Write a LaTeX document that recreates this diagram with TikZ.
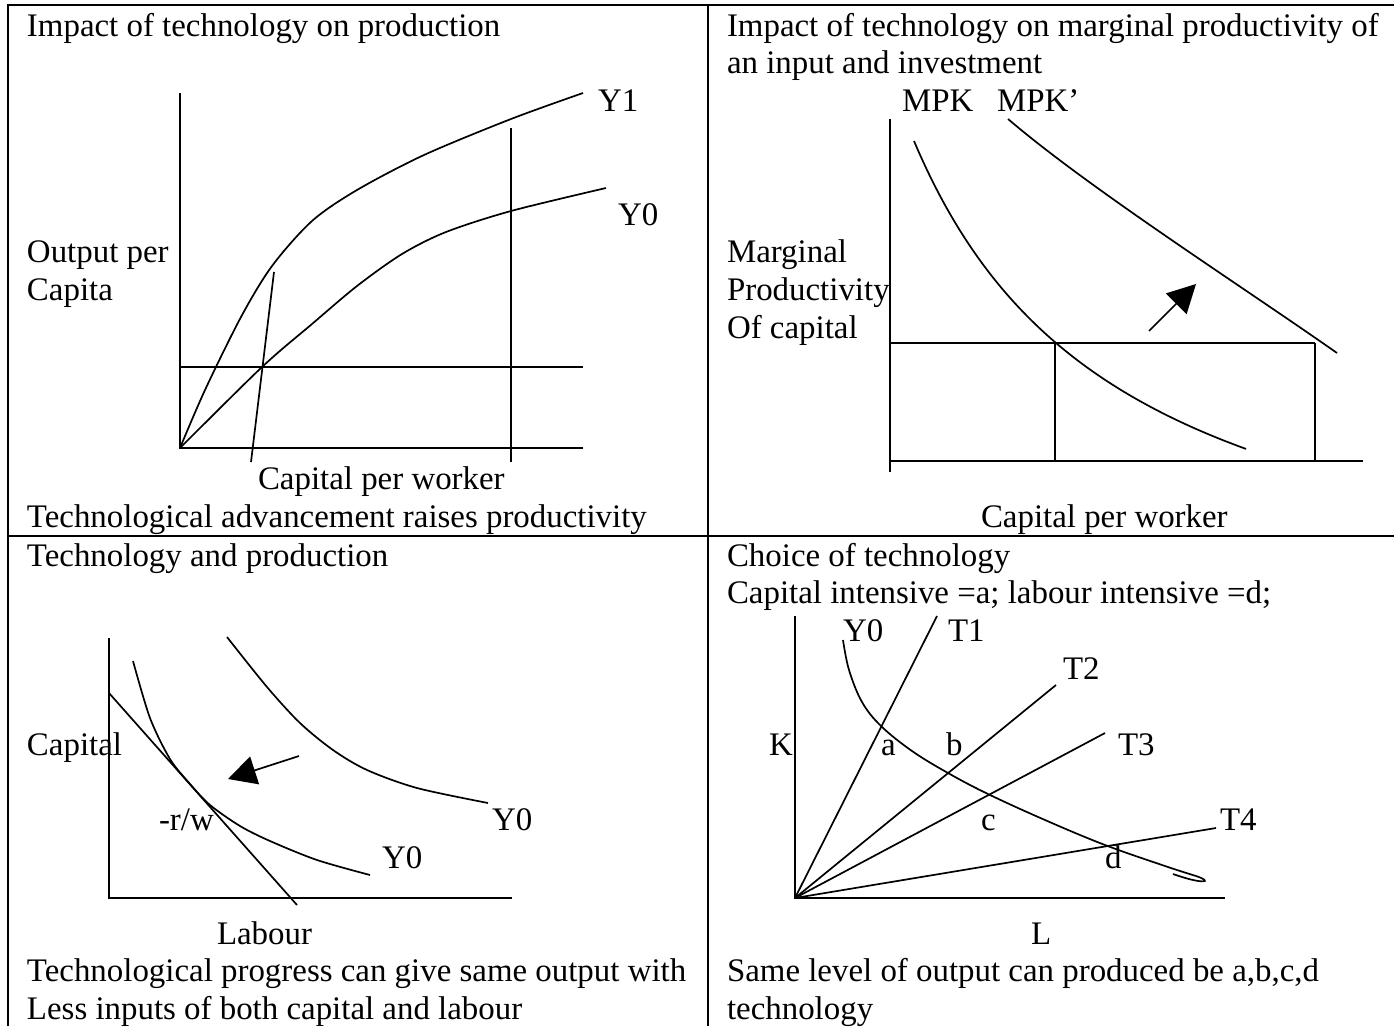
\documentclass[tikz,border=0pt]{standalone}
\usepackage{fontspec}
\setmainfont{Liberation Serif}
\usetikzlibrary{arrows.meta}
\begin{document}
\begin{tikzpicture}[x=1pt,y=-1pt,
  txt/.style={anchor=base west,inner sep=0pt,outer sep=0pt,font=\fontsize{32.9}{37.8}\selectfont},
  frame/.style={line width=2pt},
  axis/.style={line width=2pt},
  curve/.style={line width=1.7pt},
  bigarrow/.style={line width=1.7pt,-{Triangle[length=28pt,width=29pt]}}]
\useasboundingbox (0,0) rectangle (1394,1026);
% table frame
\draw[frame] (8,1026) -- (8,5) -- (1394,5);
\draw[frame] (8,536) -- (1394,536);
\draw[frame] (708,5) -- (708,1026);

% ---------- top-left ----------
\node[txt] (tl1) at (27,36) {Impact of technology on production};
\coordinate (O1) at (180,448);
\draw[axis] (180,93) -- (O1) -- (583,448);
\draw[axis] (180,367) -- (583,367);
\draw[axis] (511,128) -- (511,462);
\draw[curve] (251,462) -- (274,272);
\draw[curve] plot[smooth] coordinates {(180,448) (205,390) (241,317) (272,266) (312,221) (357,190) (424,155) (511,119) (583,93)};
\draw[curve] plot[smooth] coordinates {(180,448) (262,367) (312,324) (357,286) (402,254) (446,232) (511,211) (606,188)};
\node[txt] (tly1) at (598,111.6) {Y1};
\node[txt] (tly0) at (618,225) {Y0};
\node[txt] (tlo1) at (27,262.8) {Output per};
\node[txt] (tlo2) at (27,300.6) {Capita};
\node[txt] (tlx) at (258,489.6) {Capital per worker};
\node[txt] (tlc) at (27,527.4) {Technological advancement raises productivity};

% ---------- top-right ----------
\node[txt] (tr1) at (727,36) {Impact of technology on marginal productivity of};
\node[txt] (tr2) at (727,73.8) {an input and investment};
\node[txt] (mpk) at (902,111.6) {MPK};
\node[txt] (mpkp) at (997,111.6) {MPK’};
\node[txt] (trm1) at (727,262.8) {Marginal};
\node[txt] (trm2) at (727,300.6) {Productivity};
\node[txt] (trm3) at (727,338.4) {Of capital};
\node[txt] (trx) at (981,527.4) {Capital per worker};
\draw[axis] (890,119) -- (890,472);
\draw[axis] (890,461) -- (1363,461);
\draw[axis] (890,343) -- (1315,343);
\draw[axis] (1055,343) -- (1055,461);
\draw[axis] (1315,343) -- (1315,461);
\draw[curve] plot[domain=914:1246,samples=80] (\x,{647.4-1083.69/((\x-700)/100)});
\draw[curve] (1008,119) .. controls (1090,189) and (1240,285) .. (1337,353);
\coordinate (ar1a) at (1149,331);
\coordinate (ar1b) at (1196,284);
\draw[bigarrow] (ar1a) -- (ar1b);

% ---------- bottom-left ----------
\node[txt] (bl1) at (27,566) {Technology and production};
\node[txt] (blk) at (27,755) {Capital};
\node[txt] (blrw) at (159,830.6) {-r/w};
\node[txt] (bly0a) at (492,830.6) {Y0};
\node[txt] (bly0b) at (382,868.4) {Y0};
\node[txt] (bll) at (217,944) {Labour};
\node[txt] (blc1) at (27,981.8) {Technological progress can give same output with};
\node[txt] (blc2) at (27,1019.6) {Less inputs of both capital and labour};
\draw[axis] (109,638) -- (109,898) -- (512,898);
\draw[curve] (109,693) -- (297,905);
\draw[curve] plot[smooth] coordinates {(133,661) (150,718) (170,759) (190,784) (210,805) (240,826) (270,841) (317,860) (370,875)};
\draw[curve] plot[smooth] coordinates {(227,637) (267,687) (300,723) (333,750) (367,770) (417,788) (488,803)};
\coordinate (ar2a) at (299,756);
\coordinate (ar2b) at (228,779);
\draw[bigarrow] (ar2a) -- (ar2b);

% ---------- bottom-right ----------
\node[txt] (br1) at (727,566) {Choice of technology};
\node[txt] (br2) at (727,603.8) {Capital intensive =a; labour intensive =d;};
\coordinate (O4) at (795,898);
\draw[axis] (795,616) -- (O4) -- (1225,898);
\coordinate (T1e) at (937,616);
\coordinate (T2e) at (1056,685);
\coordinate (T3e) at (1105,733);
\coordinate (T4e) at (1216,828);
\draw[curve] (O4) -- (T1e);
\draw[curve] (O4) -- (T2e);
\draw[curve] (O4) -- (T3e);
\draw[curve] (O4) -- (T4e);
\draw[curve] plot[smooth,tension=0.6] coordinates {(843,640) (849,670) (862,702) (881,726) (912,751) (948,773) (988,794) (1045,820) (1105,845) (1165,866) (1196,876)} .. controls (1214,882) and (1204,885) .. (1173,874);
\node[txt] (bry0) at (843,641.6) {Y0};
\node[txt] (brt1) at (948,641.6) {T1};
\node[txt] (brt2) at (1063,679.4) {T2};
\node[txt] (brk) at (769,755) {K};
\node[txt] (bra) at (881,755) {a};
\node[txt] (brb) at (946,755) {b};
\node[txt] (brt3) at (1118,755) {T3};
\node[txt] (brc) at (981,830.6) {c};
\node[txt] (brt4) at (1220,830.6) {T4};
\node[txt] (brd) at (1105,868.4) {d};
\node[txt] (brl) at (1031,944) {L};
\node[txt] (brs1) at (727,981.8) {Same level of output can produced be a,b,c,d};
\node[txt] (brs2) at (727,1019.6) {technology};
\end{tikzpicture}
\end{document}
